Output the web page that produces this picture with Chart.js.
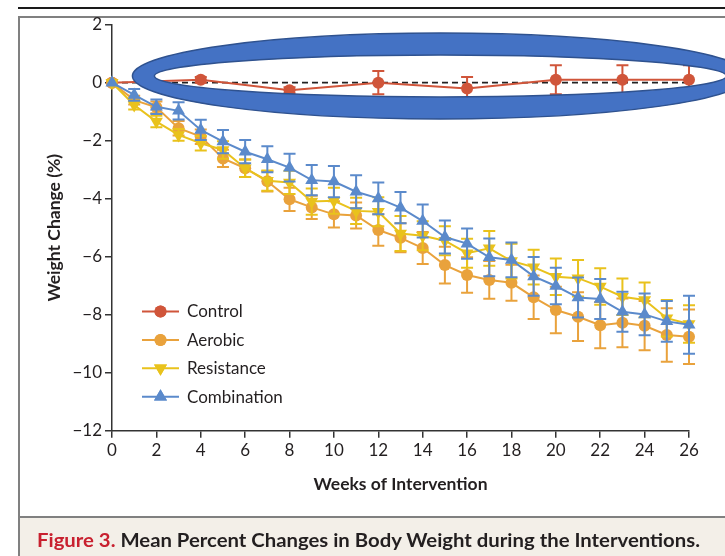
<!DOCTYPE html>
<html>
<head>
<meta charset="utf-8">
<script src="https://cdn.jsdelivr.net/npm/chart.js@4.4.1/dist/chart.umd.min.js"></script>
<style>
  html, body { margin: 0; padding: 0; background: #fff; }
  #wrap { position: relative; width: 725px; height: 556px; overflow: hidden; }
  #c { position: absolute; left: 0; top: 0; }
  #cap { position: absolute; left: 37px; top: 529px; font: 700 19px Lato, "Open Sans", sans-serif;
         white-space: nowrap; color: #231f20; transform-origin: 0 50%; line-height: 22px; }
  #cap .fig { color: #c8202f; }
</style>
</head>
<body>
<div id="wrap">
  <canvas id="c" width="725" height="556"></canvas>
  <div id="cap"><span class="fig">Figure 3.</span> Mean Percent Changes in Body Weight during the Interventions.</div>
</div>
<script>
// Weeks of intervention (x categories)
const weeks = [0, 1, 2, 3, 4, 5, 6, 7, 8, 9, 10, 11, 12, 13, 14, 15, 16, 17, 18, 19, 20, 21, 22, 23, 24, 25, 26];

// Mean percent change in body weight, per group
const aerobic = [0, -0.6, -0.85, -1.57, -1.86, -2.61, -2.95, -3.4, -4.02, -4.3, -4.54, -4.58, -5.08, -5.35, -5.7,
                 -6.29, -6.63, -6.8, -6.9, -7.4, -7.84, -8.07, -8.36, -8.28, -8.38, -8.7, -8.76];
const resistance = [0, -0.77, -1.34, -1.8, -2.09, -2.32, -2.95, -3.38, -3.44, -4.1, -4.07, -4.42, -4.45, -5.2, -5.28,
                    -5.45, -5.88, -5.71, -6.15, -6.36, -6.69, -6.74, -7.03, -7.38, -7.49, -8.12, -8.32];
const combination = [0, -0.42, -0.83, -0.97, -1.63, -2.03, -2.38, -2.64, -2.93, -3.36, -3.41, -3.76, -3.99, -4.31, -4.77,
                     -5.32, -5.55, -6.02, -6.11, -6.68, -7.01, -7.41, -7.46, -7.9, -7.99, -8.23, -8.35];

// Standard errors (half-length of the error bars)
const aerobicErr = [0, 0.15, 0.2, 0.25, 0.25, 0.3, 0.3, 0.35, 0.4, 0.4, 0.45, 0.45, 0.54, 0.5, 0.55,
                    0.63, 0.61, 0.65, 0.62, 0.75, 0.8, 0.84, 0.8, 0.84, 0.85, 0.92, 0.94];
const resistanceErr = [0, 0.15, 0.2, 0.2, 0.25, 0.3, 0.3, 0.35, 0.4, 0.45, 0.45, 0.45, 0.5, 0.6, 0.5,
                       0.5, 0.5, 0.6, 0.6, 0.6, 0.63, 0.63, 0.63, 0.63, 0.6, 0.63, 0.65];
const combinationErr = [0, 0.2, 0.25, 0.3, 0.35, 0.4, 0.4, 0.45, 0.48, 0.52, 0.54, 0.57, 0.55, 0.54, 0.57,
                        0.57, 0.52, 0.65, 0.6, 0.67, 0.63, 0.69, 0.69, 0.69, 0.72, 0.7, 1.0];

// Control group measured less often
const controlWeeks = [0, 4, 8, 12, 16, 20, 23, 26];
const control = [0, 0.1, -0.26, 0, -0.2, 0.1, 0.1, 0.1];
const controlErr = [0, 0.1, 0.1, 0.4, 0.4, 0.5, 0.5, 0.5];

// Axis ticks
const xTicks = [0, 2, 4, 6, 8, 10, 12, 14, 16, 18, 20, 22, 24, 26];
const yTicks = [2, 0, -2, -4, -6, -8, -10, -12];

const COLORS = { control: '#d0553a', aerobic: '#e9a23c', resistance: '#e9c21c', combination: '#5b8acb' };
const FONT = 'Lato, "Open Sans", sans-serif';

const pts = (xs, ys) => xs.map((x, i) => ({ x, y: ys[i] }));

// Page frame: rule at top, grey box, caption band
const framePlugin = {
  id: 'frame',
  beforeDraw(chart) {
    const ctx = chart.ctx;
    ctx.save();
    ctx.fillStyle = '#fff';
    ctx.fillRect(0, 0, 725, 556);
    ctx.fillStyle = '#f3efe8';
    ctx.fillRect(19, 517, 706, 39);
    ctx.strokeStyle = '#1a1a1a';
    ctx.lineWidth = 2;
    ctx.beginPath(); ctx.moveTo(18, 8); ctx.lineTo(725, 8); ctx.stroke();
    ctx.strokeStyle = '#808080';
    ctx.lineWidth = 2;
    ctx.beginPath();
    ctx.moveTo(725, 17); ctx.lineTo(19, 17); ctx.lineTo(19, 556);
    ctx.moveTo(19, 517); ctx.lineTo(725, 517);
    ctx.stroke();
    ctx.restore();
  }
};

// Dashed reference line at zero change
const zeroLine = {
  id: 'zeroLine',
  beforeDatasetsDraw(chart) {
    const { ctx, scales: { x, y } } = chart;
    const py = y.getPixelForValue(0);
    ctx.save();
    ctx.strokeStyle = '#222';
    ctx.lineWidth = 1.8;
    ctx.setLineDash([6, 4]);
    ctx.beginPath();
    ctx.moveTo(x.getPixelForValue(0), py);
    ctx.lineTo(x.getPixelForValue(26), py);
    ctx.stroke();
    ctx.restore();
  }
};

// Vertical error bars with caps, drawn just under each series
const errorBars = {
  id: 'errorBars',
  beforeDatasetDraw(chart, args) {
    const ds = chart.data.datasets[args.index];
    if (!ds.err) return;
    const { ctx, scales: { x, y } } = chart;
    ctx.save();
    ctx.strokeStyle = ds.borderColor;
    ctx.lineWidth = 2;
    ds.data.forEach((p, i) => {
      const e = ds.err[i];
      if (!e) return;
      const px = x.getPixelForValue(p.x);
      const y1 = y.getPixelForValue(p.y + e);
      const y2 = y.getPixelForValue(p.y - e);
      ctx.beginPath();
      ctx.moveTo(px, y1); ctx.lineTo(px, y2);
      ctx.moveTo(px - 6, y1); ctx.lineTo(px + 6, y1);
      ctx.moveTo(px - 6, y2); ctx.lineTo(px + 6, y2);
      ctx.stroke();
    });
    ctx.restore();
  }
};

// Legend: line + marker + label
const legendPlugin = {
  id: 'lineLegend',
  afterDraw(chart) {
    const ctx = chart.ctx;
    const order = [3, 2, 1, 0];
    ctx.save();
    order.forEach((di, k) => {
      const ds = chart.data.datasets[di];
      const yy = 311.5 + k * 28.4;
      ctx.strokeStyle = ds.borderColor;
      ctx.lineWidth = 2;
      ctx.beginPath(); ctx.moveTo(142, yy); ctx.lineTo(179, yy); ctx.stroke();
      ctx.fillStyle = ds.borderColor;
      ctx.beginPath();
      Chart.helpers.drawPoint(ctx, {
        pointStyle: ds.pointStyle, rotation: ds.pointRotation || 0,
        radius: ds.pointRadius, borderWidth: 0
      }, 160.5, yy);
      ctx.fill();
      ctx.fillStyle = '#231f20';
      ctx.font = '17px ' + FONT;
      ctx.textBaseline = 'middle';
      ctx.fillText(ds.label, 187, yy + 0.5);
    });
    ctx.restore();
  }
};

// Highlight ring around the control series
const ringPlugin = {
  id: 'ring',
  afterDraw(chart) {
    const { ctx, scales: { x, y } } = chart;
    const cx = x.getPixelForValue(14.8), cy = y.getPixelForValue(0.23);
    const rxO = x.getPixelForValue(13.88) - x.getPixelForValue(0);
    const ryO = y.getPixelForValue(0) - y.getPixelForValue(1.48);
    const t = 22;
    ctx.save();
    ctx.beginPath();
    ctx.ellipse(cx, cy, rxO, ryO, 0, 0, Math.PI * 2);
    ctx.ellipse(cx, cy, rxO - t, ryO - t, 0, 0, Math.PI * 2, true);
    ctx.fillStyle = '#4472c4';
    ctx.fill('evenodd');
    ctx.strokeStyle = '#2f528f';
    ctx.lineWidth = 1.5;
    ctx.stroke();
    ctx.restore();
  }
};

const minus = v => (v < 0 ? '\u2212' + Math.abs(v) : String(v));

new Chart(document.getElementById('c'), {
  type: 'line',
  data: {
    datasets: [
      { label: 'Combination', data: pts(weeks, combination), err: combinationErr, order: 0,
        borderColor: COLORS.combination, backgroundColor: COLORS.combination,
        pointStyle: 'triangle', pointRadius: 7.5, pointRotation: 0 },
      { label: 'Resistance', data: pts(weeks, resistance), err: resistanceErr, order: 1,
        borderColor: COLORS.resistance, backgroundColor: COLORS.resistance,
        pointStyle: 'triangle', pointRadius: 7.5, pointRotation: 180 },
      { label: 'Aerobic', data: pts(weeks, aerobic), err: aerobicErr, order: 2,
        borderColor: COLORS.aerobic, backgroundColor: COLORS.aerobic,
        pointStyle: 'circle', pointRadius: 6 },
      { label: 'Control', data: pts(controlWeeks, control), err: controlErr, order: 3,
        borderColor: COLORS.control, backgroundColor: COLORS.control,
        pointStyle: 'circle', pointRadius: 6 }
    ].map(d => Object.assign({ borderWidth: 2, tension: 0, pointBorderWidth: 0,
                               pointHoverRadius: d.pointRadius, clip: false }, d))
  },
  options: {
    responsive: false,
    animation: false,
    events: [],
    layout: { padding: { left: 40, top: 24.7, right: 36, bottom: 57.3 } },
    plugins: { legend: { display: false }, tooltip: { enabled: false } },
    scales: {
      x: {
        type: 'linear', min: 0, max: 26,
        afterFit: s => { s.height = 68; },
        afterBuildTicks: s => { s.ticks = xTicks.map(v => ({ value: v })); },
        ticks: { color: '#231f20', font: { family: FONT, size: 17 }, padding: 3, maxRotation: 0 },
        grid: { drawOnChartArea: false, drawTicks: true, tickLength: 7, color: '#333', lineWidth: 1.5 },
        border: { display: true, color: '#333', width: 1.5 },
        title: { display: true, text: 'Weeks of Intervention', color: '#231f20',
                 font: { family: FONT, size: 17.5, weight: 'bold' }, padding: { top: 4, bottom: 4 } }
      },
      y: {
        type: 'linear', min: -12, max: 2,
        afterFit: s => { s.width = 72; },
        afterBuildTicks: s => { s.ticks = yTicks.map(v => ({ value: v })); },
        ticks: { color: '#231f20', font: { family: FONT, size: 17 }, padding: 3, callback: minus },
        grid: { drawOnChartArea: false, drawTicks: true, tickLength: 7, color: '#333', lineWidth: 1.5 },
        border: { display: true, color: '#333', width: 1.5 },
        title: { display: true, text: 'Weight Change (%)', color: '#231f20',
                 font: { family: FONT, size: 17.5, weight: 'bold' }, padding: { top: 4, bottom: 4 } }
      }
    }
  },
  plugins: [framePlugin, zeroLine, errorBars, legendPlugin, ringPlugin]
});

// Fit the caption to the band width
const cap = document.getElementById('cap');
const w = cap.getBoundingClientRect().width;
cap.style.transform = 'scaleX(' + (663 / w) + ')';
</script>
</body>
</html>
